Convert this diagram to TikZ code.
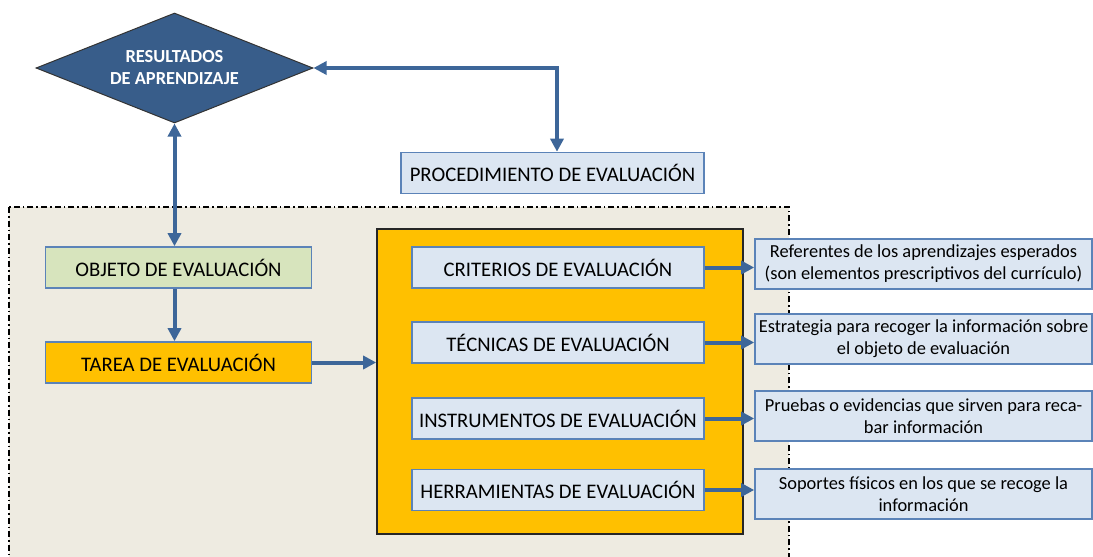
\documentclass[tikz,border=0pt]{standalone}
\usepackage{fontspec}
\setmainfont{Carlito}
\usetikzlibrary{shapes.geometric,arrows.meta,calc}
\definecolor{diamfill}{HTML}{385D8A}
\definecolor{arrowc}{HTML}{3D6699}
\definecolor{boxfill}{HTML}{DCE6F2}
\definecolor{boxline}{HTML}{5B83B8}
\definecolor{greenfill}{HTML}{D7E4BD}
\definecolor{yellowfill}{HTML}{FFC000}
\definecolor{regionfill}{HTML}{EEEBE1}
\tikzset{
  x=1pt, y=-1pt,
  lbox/.style={draw=boxline, line width=1.6pt, fill=boxfill, inner sep=0pt, minimum height=41pt, font=\fontsize{20.7}{24}\selectfont},
  dbox/.style={draw=boxline, line width=1.6pt, fill=boxfill, inner sep=0pt, minimum width=337pt, minimum height=50pt, align=center, font=\fontsize{18.4}{22}\selectfont},
  conn/.style={draw=arrowc, line width=4pt, -{Triangle[length=13pt,width=13pt]}},
  bconn/.style={draw=arrowc, line width=4pt, {Triangle[length=13pt,width=13pt]}-{Triangle[length=13pt,width=13pt]}},
}
\begin{document}
\begin{tikzpicture}
\useasboundingbox (0,0) rectangle (1093,557);
\fill[white] (0,0) rectangle (1093,557);
% region
\draw[fill=regionfill, line width=1.3pt, dash pattern=on 6pt off 3pt on 1.5pt off 3pt] (9,207) rectangle (789,580);
% diamond
\node[diamond, draw=black!80, line width=1pt, fill=diamfill, inner sep=0pt, minimum width=277pt, minimum height=110pt, aspect=2.52, align=center, text=white, font=\fontsize{18.4}{22}\selectfont\bfseries] (res) at (174.5,68) {RESULTADOS\\DE APRENDIZAJE};
\node[lbox, minimum width=303pt] (proc) at (552.5,173) {PROCEDIMIENTO DE EVALUACIÓN};
\node[lbox, minimum width=266pt, fill=greenfill] (obj) at (178.5,267.5) {OBJETO DE EVALUACIÓN};
\node[lbox, minimum width=266pt, fill=yellowfill] (tar) at (178.5,362.5) {TAREA DE EVALUACIÓN};
\node[draw=black!85, line width=1.6pt, fill=yellowfill, minimum width=366pt, minimum height=305pt, inner sep=0pt] (big) at (560,381.5) {};
\node[lbox, minimum width=292pt] (crit) at (558,267.5) {CRITERIOS DE EVALUACIÓN};
\node[lbox, minimum width=292pt] (tec) at (558,342.5) {TÉCNICAS DE EVALUACIÓN};
\node[lbox, minimum width=292pt] (ins) at (558,418.5) {INSTRUMENTOS DE EVALUACIÓN};
\node[lbox, minimum width=292pt] (her) at (558,490) {HERRAMIENTAS DE EVALUACIÓN};
\node[dbox] (d1) at (923.5,264) {Referentes de los aprendizajes esperados\\(son elementos prescriptivos del currículo)};
\node[dbox] (d2) at (923.5,339) {Estrategia para recoger la información sobre\\el objeto de evaluación};
\node[dbox] (d3) at (923.5,416) {Pruebas o evidencias que sirven para reca-\\bar información};
\node[dbox] (d4) at (923.5,494) {Soportes físicos en los que se recoge la\\información};
% connectors
\draw[bconn] (res.south) -- (res.south |- obj.north);
\draw[bconn] (res.east) -| ($(proc.north)+(4.5,0)$);
\draw[conn] (obj.south -| res.south) -- (tar.north -| res.south);
\draw[conn] (tar.east) -- (tar.east -| big.west);
\draw[conn] (crit.east) -- (crit.east -| d1.west);
\draw[conn] (tec.east) -- (tec.east -| d2.west);
\draw[conn] (ins.east) -- (ins.east -| d3.west);
\draw[conn] (her.east) -- (her.east -| d4.west);
\end{tikzpicture}
\end{document}
